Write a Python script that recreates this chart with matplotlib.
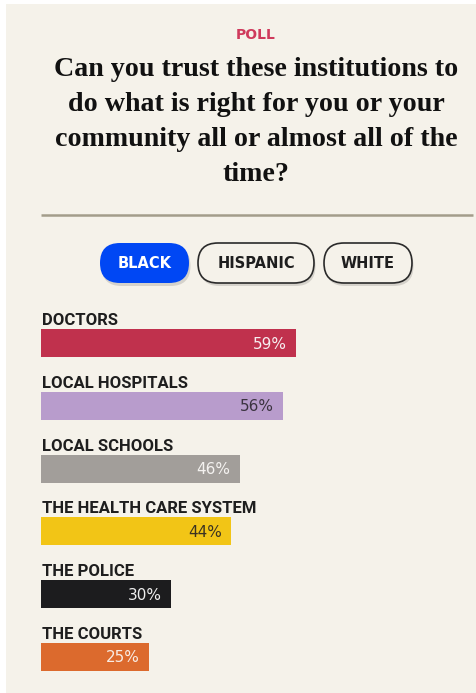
import matplotlib
matplotlib.use("Agg")
import matplotlib.pyplot as plt
from matplotlib.patches import FancyBboxPatch, Rectangle

# ---- data ----
categories = ["DOCTORS", "LOCAL HOSPITALS", "LOCAL SCHOOLS",
              "THE HEALTH CARE SYSTEM", "THE POLICE", "THE COURTS"]
values = [59, 56, 46, 44, 30, 25]
bar_colors = ["#c0314d", "#b89ccc", "#a29e9a", "#f2c516", "#1c1c1e", "#dc6a2d"]
value_text_colors = ["#f6eef0", "#3b3340", "#f4f2f0", "#3a3222", "#eeeeee", "#f8ece4"]
groups = ["BLACK", "HISPANIC", "WHITE"]
kicker = "POLL"
title_lines = ["Can you trust these institutions to",
               "do what is right for you or your",
               "community all or almost all of the",
               "time?"]

W, H = 476, 693
BG = "#f5f2ea"
fig = plt.figure(figsize=(W / 100, H / 100), dpi=100, facecolor=BG)

# background / overlay axes in pixel coordinates
bg = fig.add_axes([0, 0, 1, 1], zorder=0)
bg.set_xlim(0, W)
bg.set_ylim(H, 0)
bg.axis("off")
# white page margins at left and top
bg.add_patch(Rectangle((-5, -5), 11, H + 10, facecolor="white", edgecolor="none"))
bg.add_patch(Rectangle((-5, -5), W + 10, 9, facecolor="white", edgecolor="none"))

cx = 256
bg.text(cx, 35, kicker, ha="center", va="center", color="#cf3a5c",
        fontsize=10, fontweight="bold", family="DejaVu Sans")
baselines = [76, 111, 146, 181]
for line, yb in zip(title_lines, baselines):
    bg.text(cx, yb, line, ha="center", va="baseline", color="#111111",
            fontsize=20.2, fontweight="bold", family="Liberation Serif")

# rule
bg.plot([41, 473], [214.5, 214.5], color="#a39d8b", lw=1.8, solid_capstyle="butt")

# buttons
btn_x = [(100, 189), (198, 314), (324, 412)]
by0, by1 = 243, 283
for i, (g, (x0, x1)) in enumerate(zip(groups, btn_x)):
    h = by1 - by0
    shadow = FancyBboxPatch((x0 + 1.5, by0 + 3), x1 - x0, h,
                            boxstyle=f"round,pad=0,rounding_size={h/2}",
                            facecolor="#000000", alpha=0.13, edgecolor="none")
    bg.add_patch(shadow)
    if i == 0:
        fc, ec, tc, lw = "#0047f4", "#0047f4", "#ffffff", 0
    else:
        fc, ec, tc, lw = BG, "#2a2a2a", "#1e1e1e", 1.2
    bg.add_patch(FancyBboxPatch((x0, by0), x1 - x0, h,
                                boxstyle=f"round,pad=0,rounding_size={h/2}",
                                facecolor=fc, edgecolor=ec, linewidth=lw))
    bg.text((x0 + x1) / 2, (by0 + by1) / 2 + 0.5, g, ha="center", va="center",
            color=tc, fontsize=10.5, fontweight="bold", family="DejaVu Sans")

# bar axes: x 41..473 px == 0..100 %, rows spaced ~62.8 px
row = 62.8
top_center = 343
ax_top = top_center - row / 2
ax_h = row * len(categories)
ax = fig.add_axes([41 / W, 1 - (ax_top + ax_h) / H, 432 / W, ax_h / H], zorder=1)
ax.patch.set_alpha(0)
ax.set_xlim(0, 100)
ax.set_ylim(len(categories) - 0.5, -0.5)
ax.axis("off")

bar_h = 28 / row
ypos = list(range(len(categories)))
ax.barh(ypos, values, height=bar_h, color=bar_colors, edgecolor="none")

px_x = 432 / 100  # pixels per percent
for y, cat, v, tc in zip(ypos, categories, values, value_text_colors):
    ax.text(0.2, y - bar_h / 2 - 4 / row, cat, ha="left", va="baseline",
            color="#1e1e1e", fontsize=12, fontweight="bold", family="Roboto")
    ax.text(v - 9 / px_x, y + 5.5 / row, f"{v}%", ha="right", va="baseline",
            color=tc, fontsize=11, family="DejaVu Sans")

fig.savefig("out.png", dpi=100, facecolor=BG)
